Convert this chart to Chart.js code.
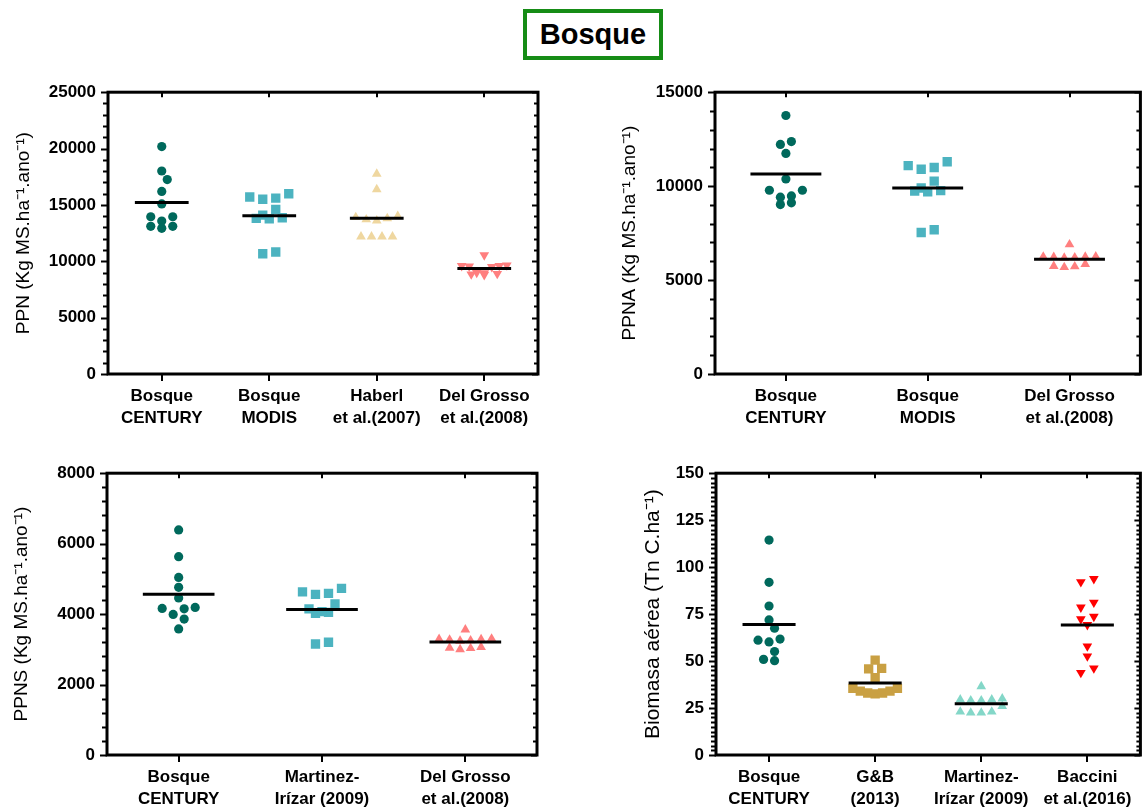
<!DOCTYPE html>
<html>
<head>
<meta charset="utf-8">
<script src="https://cdn.jsdelivr.net/npm/chart.js@4.4.1/dist/chart.umd.min.js"></script>
<style>
  body { margin: 0; background: #fff; width: 1147px; height: 809px; position: relative; overflow: hidden; }
  canvas { position: absolute; }
  #title {
    position: absolute; left: 523px; top: 9px; width: 132px; height: 38px; padding-top: 5px;
    border: 4px solid #168c16; text-align: center; line-height: 38px;
    font: bold 29px "Liberation Sans", Arial, sans-serif; color: #000;
  }
</style>
</head>
<body>
<div id="title">Bosque</div>
<canvas id="ppn" width="573" height="370" style="left:0;top:70px"></canvas>
<canvas id="ppna" width="574" height="370" style="left:573px;top:70px"></canvas>
<canvas id="ppns" width="573" height="358" style="left:0;top:451px"></canvas>
<canvas id="bio" width="574" height="358" style="left:573px;top:451px"></canvas>
<script>
// categories
const ppnLabels = [["Bosque", "CENTURY"], ["Bosque", "MODIS"], ["Haberl", "et al.(2007)"], ["Del Grosso", "et al.(2008)"]];
const ppnaLabels = [["Bosque", "CENTURY"], ["Bosque", "MODIS"], ["Del Grosso", "et al.(2008)"]];
const ppnsLabels = [["Bosque", "CENTURY"], ["Martinez-", "Irízar (2009)"], ["Del Grosso", "et al.(2008)"]];
const bioLabels = [["Bosque", "CENTURY"], ["G&B", "(2013)"], ["Martinez-", "Irízar (2009)"], ["Baccini", "et al.(2016)"]];

// PPN (Kg MS/ha/ano)
const ppnCentury = [20180, 18010, 17250, 16200, 15090, 13950, 13950, 13570, 13100, 12920, 13100];
const ppnModis = [15700, 15500, 15610, 15990, 14590, 14100, 13800, 13770, 13860, 10670, 10820];
const ppnHaberl = [17750, 16380, 13900, 13700, 13600, 13800, 14000, 12190, 12190, 12190, 12190];
const ppnDelGrosso = [10550, 9650, 9600, 9600, 9550, 9500, 9000, 8950, 8900, 8850, 8800];

// PPNA
const ppnaCentury = [13760, 12370, 12220, 11740, 10380, 9780, 9780, 9410, 9480, 9020, 9110];
const ppnaModis = [11090, 10900, 10990, 11300, 10270, 9900, 9740, 9690, 9760, 7530, 7680];
const ppnaDelGrosso = [6890, 6250, 6200, 6230, 6240, 6180, 6220, 5720, 5680, 5740, 5850];

// PPNS
const ppnsCentury = [6390, 5630, 5040, 4760, 4460, 4190, 4150, 4160, 3990, 3860, 3580];
const ppnsMartinez = [4630, 4560, 4590, 4730, 4290, 4150, 4050, 4020, 4070, 3150, 3200];
const ppnsDelGrosso = [3560, 3290, 3240, 3300, 3280, 3250, 3270, 3040, 3000, 3030, 3060];

// Biomasa aerea (Tn C/ha)
const bioCentury = [114.4, 91.9, 79.3, 71.9, 67.5, 61.1, 60.2, 61.7, 55.1, 50.2, 50.9];
const bioGB = [50.5, 45.8, 46.1, 41.1, 35.5, 34.0, 33.0, 32.5, 33.0, 34.0, 35.5];
const bioMartinez = [36.5, 30, 29.5, 29, 29, 29.5, 26, 23, 22.5, 23, 22.5];
const bioBaccini = [92.1, 93.8, 81.2, 78.6, 73.7, 72.3, 69.3, 57.9, 52.6, 46.2, 43.8];

const F = '"Liberation Sans", Arial, sans-serif';
const teal = "#00695c", cyan = "#4cb3c0", beige = "#efd7a0", salmon = "#ff7f7f",
      gold = "#c9a043", mint = "#84d7c8", red = "#ff0000";

// marker look + spacing used by the swarm layout
const circle = { style: "circle", r: 4.6, gap: 11, rowH: 8, near: 9 };
const square = { style: "rect", r: 6.6, gap: 13, rowH: 8, near: 9 };
const tri = { style: "triangle", r: 5.6, gap: 10.5, rowH: 7, near: 8 };
const triDown = { style: "triangle", r: 5.6, gap: 13, rowH: 8, near: 8, rot: 180 };

// box, minor/major ticks on the axes
const framePlugin = {
  id: "frame",
  afterDatasetsDraw(chart, args, opts) {
    const { ctx, chartArea: a, scales: { x, y } } = chart;
    const line = (x1, y1, x2, y2) => { ctx.beginPath(); ctx.moveTo(x1, y1); ctx.lineTo(x2, y2); ctx.stroke(); };
    ctx.save();
    ctx.strokeStyle = "#000";
    ctx.lineWidth = 2;
    const steps = Math.round(opts.max / opts.minor);
    for (let k = 0; k <= steps; k++) {
      const v = k * opts.minor;
      const py = Math.round(y.getPixelForValue(v)) + 0.5;
      const major = Math.abs(v / opts.major - Math.round(v / opts.major)) < 1e-6;
      line(a.left - (major ? 7 : 5), py, a.left, py);
      line(a.right, py, a.right - (major ? 6 : 4), py);
    }
    x.ticks.forEach(t => {
      const px = Math.round(x.getPixelForValue(t.value));
      line(px, a.bottom, px, a.bottom + 7);
      line(px, a.top, px, a.top + 5);
    });
    ctx.lineWidth = 3;
    ctx.strokeRect(a.left, a.top, a.right - a.left, a.bottom - a.top);
    ctx.restore();
  }
};

function mean(arr) { return arr.reduce((s, v) => s + v, 0) / arr.length; }

function makePanel(id, o) {
  const n = o.labels.length;
  const datasets = [];
  o.groups.forEach((g, i) => {
    const m = mean(g.values);
    datasets.push({
      type: "line", data: [{ x: i - 0.25, y: m }, { x: i + 0.25, y: m }],
      borderColor: "#000", borderWidth: 3, borderCapStyle: "butt",
      pointRadius: 0, fill: false, order: 0
    });
  });
  o.groups.forEach((g, i) => {
    datasets.push({
      type: "scatter", data: g.values.map(v => ({ x: i, y: v })),
      pointStyle: g.mark.style, pointRadius: g.mark.r, rotation: g.mark.rot || 0,
      backgroundColor: g.color, borderColor: g.color, borderWidth: 0,
      order: 1, center: i, mark: g.mark
    });
  });

  const chart = new Chart(document.getElementById(id), {
    data: { datasets },
    plugins: [framePlugin],
    options: {
      responsive: false,
      animation: false,
      events: [],
      layout: { padding: { top: 19, right: o.padRight, left: 0, bottom: 0 } },
      plugins: {
        legend: { display: false },
        tooltip: { enabled: false },
        frame: { max: o.max, major: o.major, minor: o.minor }
      },
      scales: {
        x: {
          type: "linear", min: -0.5, max: n - 0.5,
          grid: { display: false, drawTicks: false }, border: { display: false },
          afterBuildTicks: s => { s.ticks = o.labels.map((_, i) => ({ value: i })); },
          afterFit: s => { s.height = o.xh; },
          ticks: {
            autoSkip: false, maxRotation: 0, padding: 12, color: "#000",
            font: { family: F, size: 17, weight: "bold", lineHeight: 1.25 },
            callback: v => o.labels[v]
          }
        },
        y: {
          min: 0, max: o.max,
          grid: { display: false, drawTicks: false }, border: { display: false },
          afterFit: s => { s.width = o.yw; },
          ticks: {
            stepSize: o.major, padding: 12, color: "#000",
            font: { family: F, size: 17, weight: "bold" },
            callback: v => String(v)
          },
          title: {
            display: true, text: o.title, color: "#000",
            font: { family: F, size: o.titleSize }, padding: { top: o.titlePad, bottom: 0 }
          }
        }
      }
    }
  });
  swarm(chart);
  return chart;
}

// scatter the points of each group sideways: values close together share a row
function swarm(chart) {
  const xs = chart.scales.x, ys = chart.scales.y;
  const unit = xs.getPixelForValue(1) - xs.getPixelForValue(0);
  const maxHalf = 0.21 * unit;
  chart.data.datasets.forEach(ds => {
    if (ds.type !== "scatter") return;
    const m = ds.mark;
    const pts = ds.data.map(p => ({ p, py: ys.getPixelForValue(p.y), off: 0 }))
      .sort((a, b) => a.py - b.py);
    const rows = [];
    pts.forEach(q => {
      const row = rows[rows.length - 1];
      if (row && q.py - row[0].py < m.rowH) row.push(q); else rows.push([q]);
    });
    const placed = [];
    rows.forEach(row => {
      const k = row.length;
      if (k === 1) {
        const q = row[0];
        const cands = [0, 0.5, -0.5, 1, -1, 1.5, -1.5].map(c => c * m.gap);
        const free = cands.find(c => placed.every(p => (c - p.off) ** 2 + (q.py - p.py) ** 2 >= m.near * m.near));
        q.off = free === undefined ? 0 : free;
      } else {
        const w = Math.min(m.gap, 2 * maxHalf / (k - 1));
        const slots = row.map((_, j) => (j - (k - 1) / 2) * w)
          .sort((a, b) => Math.abs(a) - Math.abs(b) || a - b);
        row.slice().sort((a, b) => b.py - a.py).forEach((q, j) => { q.off = slots[j]; });
      }
      row.forEach(q => { placed.push(q); q.p.x = ds.center + q.off / unit; });
    });
  });
  chart.update("none");
}

makePanel("ppn", {
  labels: ppnLabels, max: 25000, major: 5000, minor: 1000,
  title: "PPN (Kg MS.ha⁻¹.ano⁻¹)", titleSize: 19, yw: 108, xh: 66, padRight: 35, titlePad: 12,
  groups: [
    { values: ppnCentury, color: teal, mark: circle },
    { values: ppnModis, color: cyan, mark: square },
    { values: ppnHaberl, color: beige, mark: tri },
    { values: ppnDelGrosso, color: salmon, mark: triDown }
  ]
});

makePanel("ppna", {
  labels: ppnaLabels, max: 15000, major: 5000, minor: 1000,
  title: "PPNA (Kg MS.ha⁻¹.ano⁻¹)", titleSize: 19, yw: 142, xh: 66, padRight: 2, titlePad: 45,
  groups: [
    { values: ppnaCentury, color: teal, mark: circle },
    { values: ppnaModis, color: cyan, mark: square },
    { values: ppnaDelGrosso, color: salmon, mark: tri }
  ]
});

makePanel("ppns", {
  labels: ppnsLabels, max: 8000, major: 2000, minor: 400,
  title: "PPNS (Kg MS.ha⁻¹.ano⁻¹)", titleSize: 19, yw: 107, xh: 54, padRight: 36, titlePad: 10,
  groups: [
    { values: ppnsCentury, color: teal, mark: circle },
    { values: ppnsMartinez, color: cyan, mark: square },
    { values: ppnsDelGrosso, color: salmon, mark: tri }
  ]
});

makePanel("bio", {
  labels: bioLabels, max: 150, major: 25, minor: 2.5,
  title: "Biomasa aérea (Tn C.ha⁻¹)", titleSize: 21, yw: 143, xh: 54, padRight: 2, titlePad: 68,
  groups: [
    { values: bioCentury, color: teal, mark: circle },
    { values: bioGB, color: gold, mark: square },
    { values: bioMartinez, color: mint, mark: tri },
    { values: bioBaccini, color: red, mark: triDown }
  ]
});
</script>
</body>
</html>
